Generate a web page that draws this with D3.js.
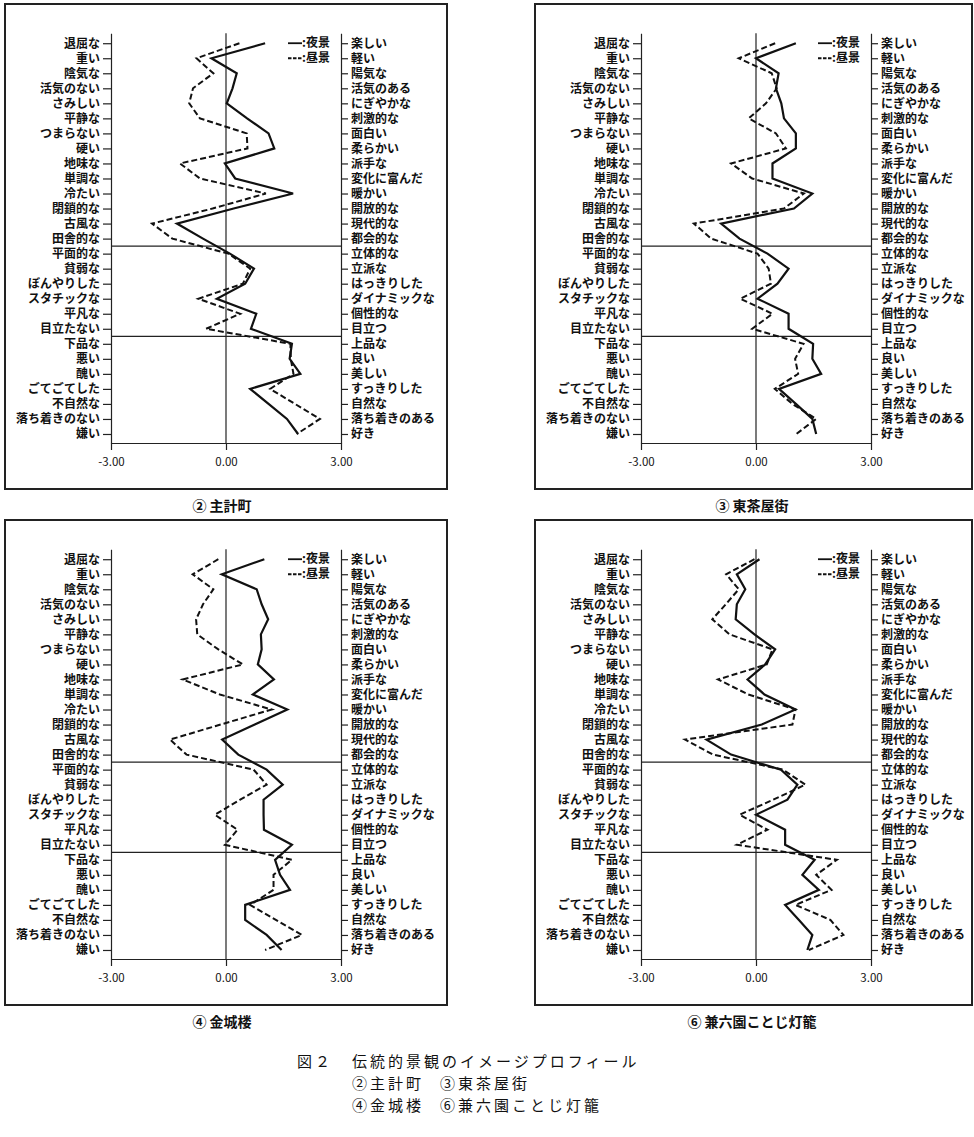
<!DOCTYPE html>
<html lang="ja">
<head>
<meta charset="utf-8">
<script src="https://cdn.jsdelivr.net/npm/d3@7"></script>
<style>
  html, body { margin: 0; padding: 0; background: #fff; }
  svg { display: block; }
  text { font-family: "Noto Sans CJK JP", "Noto Sans", sans-serif; fill: #111; }
</style>
</head>
<body>
<svg id="fig" width="974" height="1137"></svg>
<script>
// Semantic-differential adjective pairs (negative pole on the left, positive on the right)
const leftLabels = ["退屈な","重い","陰気な","活気のない","さみしい","平静な","つまらない","硬い","地味な","単調な","冷たい","閉鎖的な","古風な","田舎的な","平面的な","貧弱な","ぼんやりした","スタチックな","平凡な","目立たない","下品な","悪い","醜い","ごてごてした","不自然な","落ち着きのない","嫌い"];
const rightLabels = ["楽しい","軽い","陽気な","活気のある","にぎやかな","刺激的な","面白い","柔らかい","派手な","変化に富んだ","暖かい","開放的な","現代的な","都会的な","立体的な","立派な","はっきりした","ダイナミックな","個性的な","目立つ","上品な","良い","美しい","すっきりした","自然な","落ち着きのある","好き"];

const xTicks = [-3, 0, 3];
const seriesNames = ["夜景", "昼景"];
const panelTitles = ["② 主計町", "③ 東茶屋街", "④ 金城楼", "⑥ 兼六園ことじ灯籠"];

// Mean scores, night view (夜景) and day view (昼景)
const nightKazuemachi = [1.02,-0.38,0.28,0.17,0.02,0.55,1.11,1.26,-0.03,0.24,1.75,0.20,-1.28,-0.60,0.10,0.73,0.50,-0.24,0.79,0.65,1.72,1.66,1.94,0.63,1.11,1.59,1.88];
const dayKazuemachi   = [0.35,-0.77,-0.33,-0.86,-0.96,-0.68,0.54,0.56,-1.20,-0.68,1.04,-0.35,-1.93,-1.40,0.06,0.63,0.44,-0.72,0.37,-0.52,1.68,1.69,1.76,1.15,1.80,2.45,1.85];

const nightHigashi = [1.04,0.00,0.59,0.52,0.66,0.73,1.04,1.04,0.43,0.43,1.47,0.99,-0.91,-0.43,0.30,0.85,0.56,0.04,0.85,0.85,1.49,1.47,1.70,0.60,1.04,1.47,1.57];
const dayHigashi   = [0.50,-0.45,0.41,0.54,0.26,-0.19,0.52,0.78,-0.65,-0.10,1.25,0.73,-1.62,-1.17,0.04,0.33,0.39,-0.41,0.43,-0.10,1.24,1.02,1.10,0.49,0.95,1.57,1.05];

const nightKinjoro = [1.00,-0.11,0.80,0.93,1.10,0.91,0.93,0.83,1.25,0.70,1.60,0.75,-0.10,0.32,1.06,1.48,0.98,0.98,0.99,1.72,1.28,1.41,1.67,0.50,0.50,1.06,1.45];
const dayKinjoro   = [-0.20,-0.87,-0.33,-0.60,-0.78,-0.75,-0.20,0.44,-1.13,-0.16,1.19,-0.14,-1.46,-1.03,0.72,1.06,0.37,-0.29,0.30,-0.03,1.72,1.24,1.24,0.63,1.30,1.98,1.02];

const nightKenrokuen = [0.09,-0.50,-0.28,-0.50,-0.53,-0.04,0.50,0.24,-0.22,0.22,1.03,0.15,-1.29,-0.65,0.65,1.08,0.82,0.00,0.76,0.76,1.53,1.21,1.64,0.76,1.12,1.47,1.34];
const dayKenrokuen   = [-0.04,-0.78,-0.45,-0.79,-1.14,-0.69,0.43,0.28,-0.99,-0.20,1.03,0.95,-1.85,-1.12,0.70,1.29,0.45,-0.43,0.30,-0.50,2.11,1.57,1.97,1.03,1.94,2.28,1.38];

const captionLines = [
  ["図２", "伝統的景観のイメージプロフィール"],
  ["", "②主計町", "③東茶屋街"],
  ["", "④金城楼", "⑥兼六園ことじ灯籠"]
];

const panels = [
  { title: panelTitles[0], night: nightKazuemachi, day: dayKazuemachi, ox: 0,   oy: 0 },
  { title: panelTitles[1], night: nightHigashi,    day: dayHigashi,    ox: 530, oy: 0 },
  { title: panelTitles[2], night: nightKinjoro,    day: dayKinjoro,    ox: 0,   oy: 516 },
  { title: panelTitles[3], night: nightKenrokuen,  day: dayKenrokuen,  ox: 530, oy: 516 }
];

const svg = d3.select("#fig");
const font = '"Noto Sans CJK JP", sans-serif';

// shared scales (panel-local coordinates)
const x = d3.scaleLinear().domain([-3, 3]).range([111, 341]);
const y = d3.scaleLinear().domain([-0.66, 26.6]).range([33.3, 443]);
const rows = d3.range(leftLabels.length);

const line = d3.line()
  .x(d => x(d))
  .y((d, i) => y(i));

panels.forEach(p => {
  const g = svg.append("g").attr("transform", `translate(${p.ox},${p.oy})`);

  // outer frame
  const frameW = p.ox === 0 ? 442 : 437;
  g.append("rect")
    .attr("x", 5).attr("y", 4)
    .attr("width", frameW).attr("height", 485)
    .attr("fill", "none").attr("stroke", "#222").attr("stroke-width", 2);

  // left axis with negative adjectives
  const axL = g.append("g")
    .attr("transform", `translate(${x(-3)},0)`)
    .call(d3.axisLeft(y).tickValues(rows).tickFormat(i => leftLabels[i]).tickSizeInner(8).tickSizeOuter(0).tickPadding(3));

  // right axis with positive adjectives
  const axR = g.append("g")
    .attr("transform", `translate(${x(3)},0)`)
    .call(d3.axisRight(y).tickValues(rows).tickFormat(i => rightLabels[i]).tickSizeInner(7).tickSizeOuter(0).tickPadding(3));

  // bottom scale axis
  const axB = g.append("g")
    .attr("transform", `translate(0,${y.range()[1]})`)
    .call(d3.axisBottom(x).tickValues(xTicks).tickFormat(d => d.toFixed(2)).tickSizeInner(7).tickSizeOuter(0).tickPadding(8));

  [axL, axR, axB].forEach(ax => {
    ax.selectAll("path.domain").attr("stroke", "#222").attr("stroke-width", 1.2);
    ax.selectAll(".tick line").attr("stroke", "#222").attr("stroke-width", 1.2);
  });
  axL.selectAll("text").attr("font-family", font).attr("font-size", 12).attr("font-weight", 700).attr("fill", "#111");
  axR.selectAll("text").attr("font-family", font).attr("font-size", 12).attr("font-weight", 700).attr("fill", "#111");
  axB.selectAll("text").attr("font-family", "'DejaVu Sans', sans-serif").attr("font-size", 11.5).attr("fill", "#111");

  // zero reference line
  g.append("line")
    .attr("x1", x(0)).attr("x2", x(0))
    .attr("y1", y.range()[0]).attr("y2", y.range()[1])
    .attr("stroke", "#222").attr("stroke-width", 1.2);

  // group dividers
  [13.5, 19.5].forEach(r => {
    g.append("line")
      .attr("x1", x(-3)).attr("x2", x(3))
      .attr("y1", y(r)).attr("y2", y(r))
      .attr("stroke", "#222").attr("stroke-width", 1.2);
  });

  // profiles
  g.append("path").datum(p.day)
    .attr("d", line).attr("fill", "none")
    .attr("stroke", "#111").attr("stroke-width", 2).attr("stroke-dasharray", "6,3");
  g.append("path").datum(p.night)
    .attr("d", line).attr("fill", "none")
    .attr("stroke", "#111").attr("stroke-width", 2.2);

  // legend
  const lg = g.append("g").attr("transform", `translate(288,0)`);
  seriesNames.forEach((name, k) => {
    const ly = y(k);
    lg.append("line")
      .attr("x1", 0).attr("x2", 14).attr("y1", ly).attr("y2", ly)
      .attr("stroke", "#111").attr("stroke-width", 1.8)
      .attr("stroke-dasharray", k === 0 ? null : "3.5,1.5");
    lg.append("text")
      .attr("x", 14).attr("y", ly).attr("dy", "0.35em")
      .attr("font-family", font).attr("font-size", 12).attr("font-weight", 700)
      .text(":" + name);
  });

  // panel title below frame
  g.append("text")
    .attr("x", x(0) - 4).attr("y", 506).attr("dy", "0.35em")
    .attr("text-anchor", "middle")
    .attr("font-family", font).attr("font-size", 14).attr("font-weight", 700)
    .text(p.title);
});

// figure caption
const cap = svg.append("g")
  .attr("font-family", font).attr("font-size", 15)
  .attr("letter-spacing", "3px");
const capY = [1062, 1084, 1106];
const capX = [297, 352, 440];
captionLines.forEach((ln, r) => {
  ln.forEach((t, c) => {
    if (!t) return;
    cap.append("text")
      .attr("x", capX[c]).attr("y", capY[r]).attr("dy", "0.35em")
      .text(t);
  });
});
</script>
</body>
</html>
